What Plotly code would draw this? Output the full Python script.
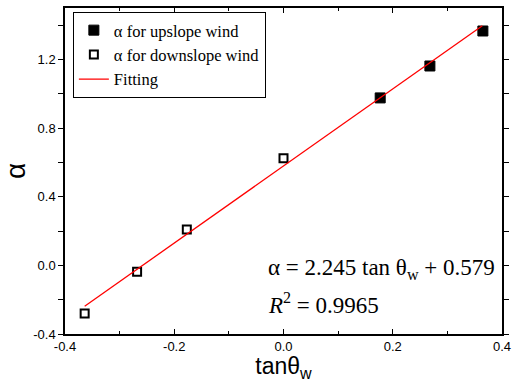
import plotly.graph_objects as go

# Data
up_x = [0.177, 0.268, 0.365]
up_y = [0.976, 1.162, 1.366]
down_x = [-0.364, -0.268, -0.177, 0.0]
down_y = [-0.28, -0.037, 0.209, 0.624]
fit_slope = 2.245
fit_intercept = 0.579
fit_x = [-0.364, 0.364]
fit_y = [fit_slope * v + fit_intercept for v in fit_x]

x_ticks = [-0.4, -0.2, 0.0, 0.2, 0.4]
y_ticks = [-0.4, 0.0, 0.4, 0.8, 1.2]

serif = "Liberation Serif"
sans = "Liberation Sans"

fig = go.Figure()
fig.add_trace(go.Scatter(
    x=up_x, y=up_y, mode="markers", name="α for upslope wind",
    marker=dict(symbol="square", size=10, color="black", line=dict(color="black", width=1)),
))
fig.add_trace(go.Scatter(
    x=down_x, y=down_y, mode="markers", name="α for downslope wind",
    marker=dict(symbol="square-open", size=8, color="black", line=dict(color="black", width=2)),
))
fig.add_trace(go.Scatter(
    x=fit_x, y=fit_y, mode="lines", name="Fitting",
    line=dict(color="red", width=1.3),
))

fig.add_annotation(
    x=0.0, y=-0.02, xref="x", yref="y", xanchor="left", yanchor="middle",
    xshift=-18,
    text="α = 2.245 tan θ<sub>w</sub> + 0.579",
    showarrow=False, font=dict(family=serif, size=23, color="black"),
)
fig.add_annotation(
    x=0.0, y=-0.22, xref="x", yref="y", xanchor="left", yanchor="middle",
    xshift=-18,
    text="<i>R</i><sup>2</sup> = 0.9965",
    showarrow=False, font=dict(family=serif, size=23, color="black"),
)

fig.update_layout(
    width=517, height=382,
    margin=dict(l=65, r=6, t=6, b=48),
    paper_bgcolor="white", plot_bgcolor="white",
    showlegend=True,
    legend=dict(
        x=0.018, y=0.988, xanchor="left", yanchor="top",
        bordercolor="black", borderwidth=1, bgcolor="white",
        font=dict(family=serif, size=16.5, color="black"),
        tracegroupgap=0, itemwidth=30,
    ),
    font=dict(family=sans, color="black"),
)
fig.update_xaxes(
    range=[-0.4, 0.4], tickvals=x_ticks, ticktext=[f"{v:.1f}" for v in x_ticks],
    ticks="inside", ticklen=5, tickwidth=1, tickcolor="black",
    minor=dict(ticks="inside", ticklen=3, dtick=0.1, tickcolor="black", showgrid=False),
    showline=True, linecolor="black", linewidth=1.5, mirror="ticks",
    showgrid=False, zeroline=False,
    tickfont=dict(family=sans, size=13, color="black"),
    title=dict(text="tanθ<sub>w</sub>", font=dict(family=sans, size=23, color="black"), standoff=6),
)
fig.update_yaxes(
    range=[-0.4, 1.5], tickvals=y_ticks, ticktext=[f"{v:.1f}" for v in y_ticks],
    ticks="outside", ticklen=5, tickwidth=1, tickcolor="black",
    minor=dict(ticks="outside", ticklen=5, dtick=0.2, tickcolor="black", showgrid=False),
    showline=True, linecolor="black", linewidth=1.5, mirror="ticks",
    showgrid=False, zeroline=False,
    tickfont=dict(family=sans, size=13, color="black"),
    title=dict(text="α", font=dict(family=sans, size=28, color="black"), standoff=8),
)

fig.write_html("out.html")
